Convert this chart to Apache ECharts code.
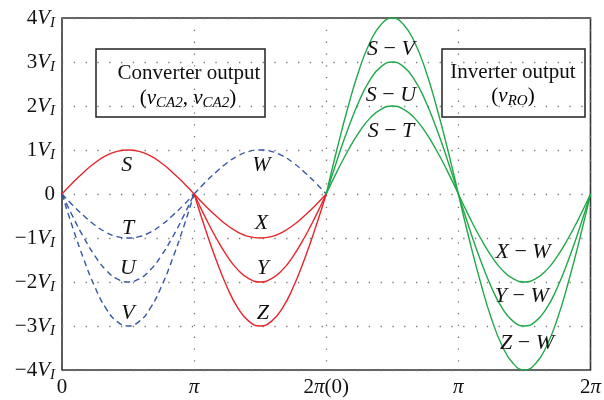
<!DOCTYPE html>
<html>
<head>
<meta charset="utf-8">
<script src="https://cdn.jsdelivr.net/npm/echarts@6/dist/echarts.min.js"></script>
<style>
  html, body { margin: 0; padding: 0; background: #fff; }
  #chart { width: 604px; height: 400px; }
</style>
</head>
<body>
<div id="chart"></div>
<script>
// x is measured in units of pi; four half periods are shown
const xTickNumbers = ['0', '', '2', '', '2'];
const xTickSuffix = ['', 'π', 'π(0)', 'π', 'π'];

// position inside one half period (fraction of pi)
const phase = [0, 0.083, 0.167, 0.25, 0.333, 0.417, 0.5, 0.583, 0.667, 0.75, 0.833, 0.917, 1];

// converter output, first half period (0 .. pi)
const curveS = [0, 0.26, 0.5, 0.71, 0.87, 0.97, 1, 0.97, 0.87, 0.71, 0.5, 0.26, 0];
const curveT = [0, -0.26, -0.5, -0.71, -0.87, -0.97, -1, -0.97, -0.87, -0.71, -0.5, -0.26, 0];
const curveU = [0, -0.52, -1, -1.41, -1.73, -1.93, -2, -1.93, -1.73, -1.41, -1, -0.52, 0];
const curveV = [0, -0.78, -1.5, -2.12, -2.6, -2.9, -3, -2.9, -2.6, -2.12, -1.5, -0.78, 0];

// converter output, second half period (pi .. 2pi)
const curveW = [0, 0.26, 0.5, 0.71, 0.87, 0.97, 1, 0.97, 0.87, 0.71, 0.5, 0.26, 0];
const curveX = [0, -0.26, -0.5, -0.71, -0.87, -0.97, -1, -0.97, -0.87, -0.71, -0.5, -0.26, 0];
const curveY = [0, -0.52, -1, -1.41, -1.73, -1.93, -2, -1.93, -1.73, -1.41, -1, -0.52, 0];
const curveZ = [0, -0.78, -1.5, -2.12, -2.6, -2.9, -3, -2.9, -2.6, -2.12, -1.5, -0.78, 0];

// inverter output, positive half period
const curveSV = [0, 1.04, 2, 2.83, 3.46, 3.86, 4, 3.86, 3.46, 2.83, 2, 1.04, 0];
const curveSU = [0, 0.78, 1.5, 2.12, 2.6, 2.9, 3, 2.9, 2.6, 2.12, 1.5, 0.78, 0];
const curveST = [0, 0.52, 1, 1.41, 1.73, 1.93, 2, 1.93, 1.73, 1.41, 1, 0.52, 0];

// inverter output, negative half period
const curveXW = [0, -0.52, -1, -1.41, -1.73, -1.93, -2, -1.93, -1.73, -1.41, -1, -0.52, 0];
const curveYW = [0, -0.78, -1.5, -2.12, -2.6, -2.9, -3, -2.9, -2.6, -2.12, -1.5, -0.78, 0];
const curveZW = [0, -1.04, -2, -2.83, -3.46, -3.86, -4, -3.86, -3.46, -2.83, -2, -1.04, 0];

// curve name labels
const labelText = ['S', 'T', 'U', 'V', 'W', 'X', 'Y', 'Z', 'S|V', 'S|U', 'S|T', 'X|W', 'Y|W', 'Z|W'];
const labelX = [0.49, 0.5, 0.5, 0.5, 1.51, 1.51, 1.52, 1.52, 2.49, 2.49, 2.49, 3.49, 3.48, 3.52];
const labelY = [0.66, -0.77, -1.68, -2.7, 0.66, -0.66, -1.68, -2.7, 3.3, 2.25, 1.43, -1.32, -2.32, -3.39];

const RED = '#e5262b';
const BLUE = '#3656a6';
const GREEN = '#22a84a';
const INK = '#111';
const SERIF = '"Liberation Serif", "DejaVu Serif", serif';

const curves = [
  { start: 0, values: curveS, color: RED, dashed: false },
  { start: 0, values: curveT, color: BLUE, dashed: true },
  { start: 0, values: curveU, color: BLUE, dashed: true },
  { start: 0, values: curveV, color: BLUE, dashed: true },
  { start: 1, values: curveW, color: BLUE, dashed: true },
  { start: 1, values: curveX, color: RED, dashed: false },
  { start: 1, values: curveY, color: RED, dashed: false },
  { start: 1, values: curveZ, color: RED, dashed: false },
  { start: 2, values: curveSV, color: GREEN, dashed: false },
  { start: 2, values: curveSU, color: GREEN, dashed: false },
  { start: 2, values: curveST, color: GREEN, dashed: false },
  { start: 3, values: curveXW, color: GREEN, dashed: false },
  { start: 3, values: curveYW, color: GREEN, dashed: false },
  { start: 3, values: curveZW, color: GREEN, dashed: false }
];

const lineSeries = curves.map(c => ({
  type: 'line',
  data: c.values.map((v, i) => [c.start + phase[i], v]),
  smooth: true,
  showSymbol: false,
  silent: true,
  z: c.dashed ? 3 : 4,
  lineStyle: { color: c.color, width: 1.4, type: c.dashed ? [6, 4] : 'solid' }
}));

const labelSeries = {
  type: 'scatter',
  symbolSize: 0,
  silent: true,
  z: 6,
  itemStyle: { opacity: 1 },
  data: labelText.map((t, i) => [labelX[i], labelY[i], t]),
  label: {
    show: true,
    position: 'inside',
    color: INK,
    opacity: 1,
    textBorderWidth: 0,
    formatter: p => {
      const parts = p.value[2].split('|');
      return parts.length === 1 ? '{i|' + parts[0] + '}' : '{i|' + parts[0] + '}{m| − }{i|' + parts[1] + '}';
    },
    rich: {
      i: { fontFamily: SERIF, fontStyle: 'italic', fontSize: 22, color: INK, textBorderWidth: 0 },
      m: { fontFamily: SERIF, fontSize: 22, color: INK, textBorderWidth: 0 }
    }
  }
};

const dotted = { color: '#777', width: 1.3, type: [1.3, 10.5] };

const yRich = {
  n: { fontFamily: SERIF, fontSize: 21, color: INK, lineHeight: 26, verticalAlign: 'middle' },
  v: { fontFamily: SERIF, fontStyle: 'italic', fontSize: 21, color: INK, lineHeight: 26, verticalAlign: 'middle' },
  s: { fontFamily: SERIF, fontStyle: 'italic', fontSize: 15, color: INK, lineHeight: 15, verticalAlign: 'bottom' }
};

const xRich = {
  n: { fontFamily: SERIF, fontSize: 21, color: INK },
  p: { fontFamily: SERIF, fontStyle: 'italic', fontSize: 21, color: INK },
  r: { fontFamily: SERIF, fontSize: 21, color: INK }
};

const chart = echarts.init(document.getElementById('chart'), null, { renderer: 'canvas' });

chart.setOption({
  animation: false,
  backgroundColor: '#fff',
  grid: {
    left: 62, right: 12, top: 18, bottom: 30,
    show: true, borderColor: '#333', borderWidth: 1.6, backgroundColor: 'transparent'
  },
  xAxis: {
    type: 'value', min: 0, max: 4, interval: 1,
    axisLine: { show: false },
    axisTick: { show: false },
    splitLine: { show: true, lineStyle: dotted },
    axisLabel: {
      margin: 7,
      formatter: v => {
        const k = Math.round(v);
        const suf = xTickSuffix[k];
        let s = xTickNumbers[k] ? '{n|' + xTickNumbers[k] + '}' : '';
        if (suf) {
          s += '{p|π}';
          if (suf.length > 1) s += '{r|' + suf.slice(1) + '}';
        }
        return s;
      },
      rich: xRich
    }
  },
  yAxis: {
    type: 'value', min: -4, max: 4, interval: 1,
    axisLine: { show: false },
    axisTick: { show: false },
    splitLine: { show: true, lineStyle: dotted },
    axisLabel: {
      margin: 7,
      formatter: v => {
        if (v === 0) return '{n|0}';
        const sign = v < 0 ? '−' : '';
        return '{n|' + sign + Math.abs(v) + '}{v|V}{s|I}';
      },
      rich: yRich
    }
  },
  graphic: [
    {
      type: 'group', z: 10,
      children: [
        { type: 'rect', shape: { x: 96, y: 49, width: 169, height: 68 },
          style: { fill: '#fff', stroke: '#222', lineWidth: 1.5 } },
        { type: 'text', x: 189, y: 73,
          style: { text: 'Converter output', font: '21px ' + SERIF, fill: INK, align: 'center', verticalAlign: 'middle' } },
        { type: 'text', x: 188, y: 98,
          style: {
            text: '{p|(}{r|v}{rs|CA2}{p|, }{b|v}{bs|CA2}{p|)}',
            align: 'center', verticalAlign: 'middle',
            rich: {
              p: { fontFamily: SERIF, fontSize: 21, color: INK, lineHeight: 26, verticalAlign: 'middle' },
              r: { fontFamily: SERIF, fontStyle: 'italic', fontSize: 21, color: RED, lineHeight: 26, verticalAlign: 'middle' },
              rs: { fontFamily: SERIF, fontStyle: 'italic', fontSize: 15, color: RED, lineHeight: 15, verticalAlign: 'bottom' },
              b: { fontFamily: SERIF, fontStyle: 'italic', fontSize: 21, color: BLUE, lineHeight: 26, verticalAlign: 'middle' },
              bs: { fontFamily: SERIF, fontStyle: 'italic', fontSize: 15, color: BLUE, lineHeight: 15, verticalAlign: 'bottom' }
            }
          } }
      ]
    },
    {
      type: 'group', z: 10,
      children: [
        { type: 'rect', shape: { x: 442, y: 49, width: 143, height: 68 },
          style: { fill: '#fff', stroke: '#222', lineWidth: 1.5 } },
        { type: 'text', x: 513, y: 72,
          style: { text: 'Inverter output', font: '21px ' + SERIF, fill: INK, align: 'center', verticalAlign: 'middle' } },
        { type: 'text', x: 513, y: 96,
          style: {
            text: '{p|(}{g|v}{gs|RO}{p|)}',
            align: 'center', verticalAlign: 'middle',
            rich: {
              p: { fontFamily: SERIF, fontSize: 21, color: INK, lineHeight: 26, verticalAlign: 'middle' },
              g: { fontFamily: SERIF, fontStyle: 'italic', fontSize: 21, color: GREEN, lineHeight: 26, verticalAlign: 'middle' },
              gs: { fontFamily: SERIF, fontStyle: 'italic', fontSize: 15, color: GREEN, lineHeight: 15, verticalAlign: 'bottom' }
            }
          } }
      ]
    }
  ],
  series: lineSeries.concat([labelSeries])
});
</script>
</body>
</html>
